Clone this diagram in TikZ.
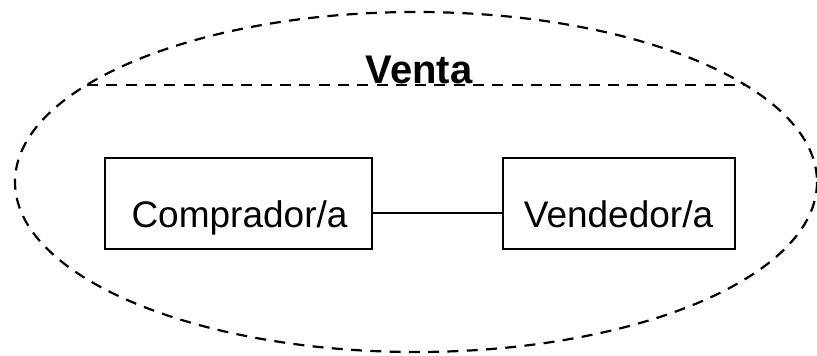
\documentclass[tikz,border=0pt]{standalone}
\usepackage{fontspec}
\setmainfont{Liberation Sans}
\begin{document}
\begin{tikzpicture}[x=1pt,y=-1pt,
  boxstyle/.style={draw=black,line width=2.2pt,minimum height=91pt,inner sep=0pt},
  dashstyle/.style={line width=2.2pt,dash pattern=on 11pt off 8.3pt},
  lbl/.style={font=\fontsize{37}{40}\selectfont,inner sep=0pt,anchor=base}]
\useasboundingbox (0,0) rectangle (817,356);
\draw[dashstyle] (416,182) ellipse [x radius=401, y radius=170];
\coordinate (hl) at (87,85);
\coordinate (hr) at (745,85);
\draw[dashstyle] (hl) -- (hr);
\node[font=\bfseries\fontsize{40}{44}\selectfont,inner sep=0pt,anchor=base] (venta) at (419,83.5) {Venta};
\node[boxstyle,minimum width=267pt] (comp) at (238.5,203.5) {};
\node[boxstyle,minimum width=232pt] (vend) at (619,203.5) {};
\node[lbl] (comptxt) at (239.5,227.5) {Comprador/a};
\node[lbl] (vendtxt) at (618.5,227.5) {Vendedor/a};
\draw[line width=1.8pt] (comp.east |- 0,213) -- (vend.west |- 0,213);
\end{tikzpicture}
\end{document}
